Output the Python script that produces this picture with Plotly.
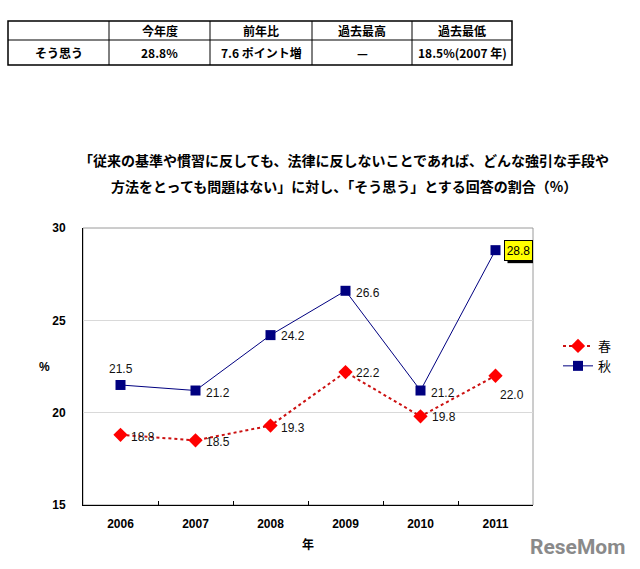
import plotly.graph_objects as go

# ---------------- data ----------------
years = ["2006", "2007", "2008", "2009", "2010", "2011"]
spring = [18.8, 18.5, 19.3, 22.2, 19.8, 22.0]   # 春
autumn = [21.5, 21.2, 24.2, 26.6, 21.2, 28.8]   # 秋
series_names = ["春", "秋"]

table_header = ["", "今年度", "前年比", "過去最高", "過去最低"]
table_row = ["そう思う", "28.8%", "7.6 ポイント増", "—", "18.5%(2007 年)"]

title_lines = ["「従来の基準や慣習に反しても、法律に反しないことであれば、どんな強引な手段や",
               "方法をとっても問題はない」に対し、「そう思う」とする回答の割合（%）"]

# ---------------- layout helpers ----------------
W, H = 640, 569
L, R, T, B = 83, 107, 228, 64
PW, PH = W - L - R, H - T - B


def px(x):
    return (x - L) / PW


def py(y):
    return (H - B - y) / PH


FONT = "Liberation Sans, Arial, Noto Sans CJK JP, sans-serif"
JFONT = "Noto Sans CJK JP, sans-serif"

fig = go.Figure()

fig.add_trace(go.Scatter(
    x=years, y=spring, name=series_names[0], mode="lines+markers",
    line=dict(color="#cc1111", width=2, dash="dot"),
    marker=dict(symbol="diamond", size=11, color="#ff0000"),
))
fig.add_trace(go.Scatter(
    x=years, y=autumn, name=series_names[1], mode="lines+markers",
    line=dict(color="#000080", width=1),
    marker=dict(symbol="square", size=10, color="#000080"),
))

annotations = []
shapes = []


def ann(**kw):
    d = dict(showarrow=False, xanchor="center", yanchor="middle")
    d.update(kw)
    annotations.append(d)


# label offsets (pixels) per point
aut_off = [(0, 16), (22, -2), (22, -1), (22, -2), (22, -2), (23, 0)]
spr_off = [(22, -2), (22, -2), (22, -2), (22, -1), (23, -1), (16, -19)]
last = len(years) - 1
for i, v in enumerate(autumn):
    dx, dy = aut_off[i]
    if i == last:
        # drop shadow of the highlighted label
        shapes.append(dict(type="rect", xref="x", yref="y", xsizemode="pixel", ysizemode="pixel",
                           xanchor=i, yanchor=v, x0=dx - 14 + 3, x1=dx + 15 + 3,
                           y0=dy - 10 - 3, y1=dy + 11 - 3,
                           fillcolor="black", line=dict(width=0), layer="above"))
        ann(x=i, y=v, xref="x", yref="y", text="%.1f" % v, xshift=dx, yshift=dy,
            width=27, height=19, borderpad=0,
            font=dict(family=FONT, size=12, color="black"),
            bgcolor="#ffff00", bordercolor="black", borderwidth=1)
    else:
        ann(x=i, y=v, xref="x", yref="y", text="%.1f" % v, xshift=dx, yshift=dy,
            font=dict(family=FONT, size=12, color="#111"))
for i, v in enumerate(spring):
    dx, dy = spr_off[i]
    ann(x=i, y=v, xref="x", yref="y", text="%.1f" % v, xshift=dx, yshift=dy,
        font=dict(family=FONT, size=12, color="#111"))

# title
ann(x=px(344), y=py(160), xref="paper", yref="paper", text="<b>" + title_lines[0] + "</b>",
    font=dict(family=JFONT, size=14, color="black"))
ann(x=px(344), y=py(186), xref="paper", yref="paper", text="<b>" + title_lines[1] + "</b>",
    font=dict(family=JFONT, size=14, color="black"))

# axis titles
ann(x=px(44), y=py(367), xref="paper", yref="paper", text="<b>%</b>",
    font=dict(family=FONT, size=12, color="black"))
ann(x=px(308), y=py(543), xref="paper", yref="paper", text="<b>年</b>",
    font=dict(family=JFONT, size=12, color="black"))

# watermark
ann(x=px(577), y=py(547), xref="paper", yref="paper", text="<b>ReseMom</b>",
    font=dict(family="Roboto, sans-serif", size=21, color="#8a8a8a"))

# table
col_edges = [8, 109, 210, 312, 412, 512]
row_edges = [21, 40, 65]
shapes.append(dict(type="rect", xref="paper", yref="paper",
                   x0=px(col_edges[0]), x1=px(col_edges[-1]), y0=py(row_edges[0]), y1=py(row_edges[-1]),
                   line=dict(color="black", width=1.5)))
shapes.append(dict(type="line", xref="paper", yref="paper",
                   x0=px(col_edges[0]), x1=px(col_edges[-1]), y0=py(row_edges[1]), y1=py(row_edges[1]),
                   line=dict(color="black", width=1)))
for cx in col_edges[1:-1]:
    shapes.append(dict(type="line", xref="paper", yref="paper",
                       x0=px(cx), x1=px(cx), y0=py(row_edges[0]), y1=py(row_edges[-1]),
                       line=dict(color="black", width=1)))
for j in range(5):
    cxm = (col_edges[j] + col_edges[j + 1]) / 2
    for r, row in enumerate([table_header, table_row]):
        if row[j]:
            cy = (row_edges[r] + row_edges[r + 1]) / 2
            ann(x=px(cxm), y=py(cy), xref="paper", yref="paper",
                text="<b>" + row[j] + "</b>",
                font=dict(family=JFONT, size=12, color="black"))

# plot frame (gray)
shapes.append(dict(type="rect", xref="paper", yref="paper", x0=0, x1=1, y0=0, y1=1,
                   line=dict(color="#9a9a9a", width=1), layer="below"))

fig.update_layout(
    width=W, height=H,
    margin=dict(l=L, r=R, t=T, b=B),
    paper_bgcolor="white", plot_bgcolor="white",
    showlegend=True,
    legend=dict(x=px(558), y=py(356), xanchor="left", yanchor="middle",
                font=dict(family=JFONT, size=13, color="black"),
                bgcolor="rgba(0,0,0,0)", tracegroupgap=0, itemwidth=30),
    annotations=annotations,
    shapes=shapes,
    xaxis=dict(type="category", range=[-0.5, 5.5], showgrid=False,
               showline=True, linecolor="black", linewidth=1,
               ticks="inside", ticklen=4, tickcolor="black", tickson="boundaries",
               tickfont=dict(family=FONT, size=12, color="black", weight="bold"),
               ticklabelstandoff=8),
    yaxis=dict(range=[15, 30], dtick=5, showgrid=True, gridcolor="#d9d9d9",
               showline=True, linecolor="black", linewidth=1, zeroline=False,
               ticks="", tickfont=dict(family=FONT, size=12, color="black", weight="bold"),
               ticklabelstandoff=14),
)

fig.write_html("out.html", config={"displayModeBar": False},
               post_script="document.body.style.margin='0';")
